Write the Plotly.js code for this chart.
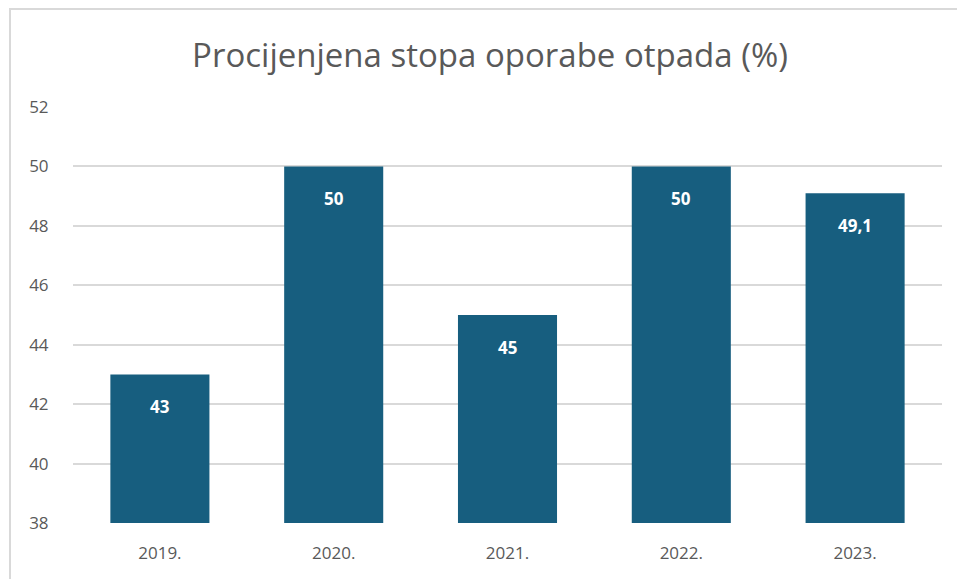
<!DOCTYPE html>
<html>
<head>
<meta charset="utf-8">
<script src="https://cdn.plot.ly/plotly-3.0.1.min.js"></script>
<style>
html,body{margin:0;padding:0;background:#fff;overflow:hidden;}
#wrap{position:relative;width:957px;height:579px;}
#chart{position:absolute;left:0;top:0;width:957px;height:579px;}
#frame{position:absolute;left:9px;top:8px;width:1000px;height:1000px;border:2px solid #d9d9d9;box-sizing:border-box;pointer-events:none;}
</style>
</head>
<body>
<div id="wrap"><div id="chart"></div><div id="frame"></div></div>
<script>
const years = ["2019.", "2020.", "2021.", "2022.", "2023."];
const rates = [43, 50, 45, 50, 49.1];
const labels = ["43", "50", "45", "50", "49,1"];
const yTicks = [38, 40, 42, 44, 46, 48, 50, 52];

const barColor = "#175e7f";
const textColor = "#595959";
const gridColor = "#d9d9d9";

const trace = {
  type: "bar",
  x: years,
  y: rates,
  marker: {color: barColor, line: {width: 0}},
  hoverinfo: "skip"
};

const annotations = years.map((yr, i) => ({
  x: i, y: rates[i], xref: "x", yref: "y",
  text: "<b>" + labels[i] + "</b>",
  showarrow: false,
  yanchor: "middle",
  yshift: -32,
  font: {family: "Open Sans, sans-serif", size: 17, color: "#ffffff"}
}));

const layout = {
  width: 957, height: 579,
  margin: {l: 73, r: 15, t: 107, b: 56},
  paper_bgcolor: "rgba(0,0,0,0)",
  plot_bgcolor: "rgba(0,0,0,0)",
  bargap: 0.43,
  showlegend: false,
  title: {
    text: "Procijenjena stopa oporabe otpada (%)",
    font: {family: "Open Sans, sans-serif", size: 33, color: textColor},
    x: 490/957, xanchor: "center", xref: "container",
    y: 1 - 55/579, yanchor: "middle", yref: "container"
  },
  xaxis: {
    type: "category",
    categoryorder: "array",
    categoryarray: years,
    tickfont: {family: "Open Sans, sans-serif", size: 17, color: textColor},
    ticks: "outside", ticklen: 15, tickcolor: "rgba(0,0,0,0)",
    showgrid: false, zeroline: false, showline: false
  },
  yaxis: {
    range: [38, 52],
    tickvals: yTicks,
    ticktext: yTicks.map(String),
    tickfont: {family: "Open Sans, sans-serif", size: 17, color: textColor},
    ticks: "outside", ticklen: 20, tickcolor: "rgba(0,0,0,0)",
    showgrid: true, gridcolor: gridColor, gridwidth: 2,
    zeroline: false, showline: false
  },
  annotations: annotations
};

Plotly.newPlot("chart", [trace], layout, {displayModeBar: false, staticPlot: true});
</script>
</body>
</html>
